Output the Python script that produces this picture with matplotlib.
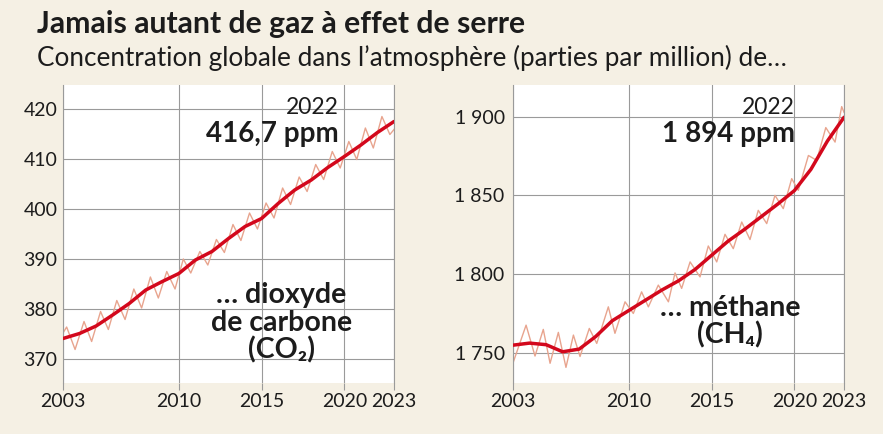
import matplotlib
matplotlib.use('Agg')
import matplotlib.pyplot as plt

plt.rcParams['font.family'] = ['Lato', 'DejaVu Sans']

# --- CO2 (ppm) ---
co2_years = [2003, 2004, 2005, 2006, 2007, 2008, 2009, 2010, 2011, 2012, 2013,
             2014, 2015, 2016, 2017, 2018, 2019, 2020, 2021, 2022, 2023]
co2_trend = [374.1, 375.1, 376.6, 378.8, 381.1, 383.8, 385.5, 387.1, 389.8, 391.5, 394.1,
             396.5, 398.1, 401.1, 403.8, 405.8, 408.3, 410.5, 412.8, 415.3, 417.5]

# seasonal cycle, peaks and troughs
co2_t = [2003.0, 2003.22, 2003.73, 2004.27, 2004.73, 2005.27, 2005.74, 2006.25, 2006.75,
         2007.28, 2007.75, 2008.28, 2008.76, 2009.27, 2009.77, 2010.27, 2010.72, 2011.27,
         2011.75, 2012.27, 2012.75, 2013.27, 2013.75, 2014.27, 2014.75, 2015.27, 2015.75,
         2016.27, 2016.75, 2017.27, 2017.75, 2018.27, 2018.75, 2019.27, 2019.75, 2020.27,
         2020.75, 2021.27, 2021.75, 2022.27, 2022.75, 2023.0]
co2_monthly = [375.2, 376.4, 371.9, 377.5, 373.5, 379.5, 375.9, 381.7, 377.9,
               384.0, 380.2, 386.4, 382.2, 387.5, 384.0, 390.0, 387.2, 391.5,
               388.8, 393.9, 391.3, 396.9, 393.7, 399.2, 396.0, 401.2, 398.2,
               404.2, 400.9, 406.4, 403.5, 408.9, 405.9, 411.5, 408.2, 413.5,
               409.9, 416.2, 412.2, 418.5, 414.9, 415.9]

# --- CH4 (ppb, labelled ppm in the source) ---
ch4_years = co2_years
ch4_trend = [1755.0, 1756.3, 1755.3, 1750.8, 1752.5, 1760.5, 1770.5, 1777.0, 1783.5, 1790.0, 1795.8,
             1803.0, 1812.0, 1821.0, 1828.5, 1836.5, 1844.5, 1853.0, 1866.5, 1884.5, 1899.5]

ch4_t = [2003.0, 2003.79, 2004.33, 2004.83, 2005.24, 2005.74, 2006.2, 2006.65, 2007.05,
         2007.61, 2008.06, 2008.76, 2009.16, 2009.77, 2010.27, 2010.77, 2011.18, 2011.78,
         2012.39, 2012.79, 2013.19, 2013.7, 2014.3, 2014.8, 2015.31, 2015.81, 2016.31,
         2016.82, 2017.32, 2017.82, 2018.33, 2018.83, 2019.33, 2019.84, 2020.24, 2020.85,
         2021.35, 2021.9, 2022.46, 2022.86, 2023.0]
ch4_monthly = [1743.7, 1767.7, 1748.1, 1765.0, 1743.5, 1763.1, 1740.9, 1761.4, 1747.8,
               1765.6, 1756.1, 1779.3, 1762.5, 1782.5, 1775.1, 1788.8, 1779.3, 1793.1,
               1782.5, 1800.8, 1791.0, 1807.8, 1798.3, 1817.9, 1807.8, 1825.3, 1816.2,
               1833.1, 1822.0, 1840.5, 1832.1, 1850.0, 1841.6, 1860.6, 1853.2, 1875.3,
               1872.2, 1893.0, 1883.8, 1906.3, 1902.7]

x_ticks = [2003, 2010, 2015, 2020, 2023]
co2_ticks = [370, 380, 390, 400, 410, 420]
ch4_ticks = [1750, 1800, 1850, 1900]
ch4_labels = ['1\u202f750', '1\u202f800', '1\u202f850', '1\u202f900']

BG = '#f5f0e4'
INK = '#1c1c1c'
GRID = '#9a9a9a'
RED = '#d3081c'
PINK = '#e8a48e'

fig = plt.figure(figsize=(8.83, 4.34), dpi=100, facecolor=BG)
W, H = 883, 434

ax1 = fig.add_axes([63 / W, 51 / H, 331 / W, 298 / H])
ax2 = fig.add_axes([513 / W, 51 / H, 331 / W, 298 / H])


def style(ax, ypad):
    ax.set_facecolor('white')
    ax.set_xlim(2003, 2023)
    ax.set_xticks(x_ticks)
    for s in ['top', 'bottom']:
        ax.spines[s].set_visible(False)
    for s in ['left', 'right']:
        ax.spines[s].set_color(GRID)
        ax.spines[s].set_linewidth(0.8)
    ax.grid(True, color=GRID, linewidth=0.8)
    ax.set_axisbelow(True)
    ax.tick_params(axis='x', length=5, width=0.8, color=GRID, pad=2,
                   labelsize=14, labelcolor=INK)
    ax.tick_params(axis='y', length=0, pad=ypad, labelsize=14, labelcolor=INK)


# Left: CO2
style(ax1, 4)
ax1.set_ylim(365.2, 424.8)
ax1.set_yticks(co2_ticks)
ax1.plot(co2_t, co2_monthly, color=PINK, linewidth=1.0, zorder=2)
ax1.plot(co2_years, co2_trend, color=RED, linewidth=2.5, zorder=3,
         solid_capstyle='round')
ax1.text(0.834, 0.902, '2022', transform=ax1.transAxes, ha='right',
         va='baseline', fontsize=16.5, color=INK)
ax1.text(0.834, 0.81, '416,7 ppm', transform=ax1.transAxes, ha='right',
         va='baseline', fontsize=20, fontweight='bold', color=INK)
ax1.text(0.659, 0.27, '\u2026 dioxyde', transform=ax1.transAxes, ha='center',
         va='baseline', fontsize=20.5, fontweight='bold', color=INK)
ax1.text(0.659, 0.1755, 'de carbone', transform=ax1.transAxes, ha='center',
         va='baseline', fontsize=20.5, fontweight='bold', color=INK)
ax1.text(0.659, 0.084, '(CO\u2082)', transform=ax1.transAxes, ha='center',
         va='baseline', fontsize=20.5, fontweight='bold', color=INK)

# Right: CH4
style(ax2, 6)
ax2.set_ylim(1731, 1920)
ax2.set_yticks(ch4_ticks, labels=ch4_labels)
ax2.plot(ch4_t, ch4_monthly, color=PINK, linewidth=1.0, zorder=2)
ax2.plot(ch4_years, ch4_trend, color=RED, linewidth=2.5, zorder=3,
         solid_capstyle='round')
ax2.text(0.852, 0.902, '2022', transform=ax2.transAxes, ha='right',
         va='baseline', fontsize=16.5, color=INK)
ax2.text(0.852, 0.81, '1\u202f894 ppm', transform=ax2.transAxes, ha='right',
         va='baseline', fontsize=20, fontweight='bold', color=INK)
ax2.text(0.656, 0.225, '\u2026 méthane', transform=ax2.transAxes, ha='center',
         va='baseline', fontsize=20.5, fontweight='bold', color=INK)
ax2.text(0.656, 0.133, '(CH\u2084)', transform=ax2.transAxes, ha='center',
         va='baseline', fontsize=20.5, fontweight='bold', color=INK)

# Titles
fig.text(37 / W, 1 - 33 / H, 'Jamais autant de gaz à effet de serre',
         fontsize=21.7, fontweight='bold', color=INK, va='baseline')
fig.text(37 / W, 1 - 66 / H,
         'Concentration globale dans l\u2019atmosphère (parties par million) de\u2026',
         fontsize=18.8, color=INK, va='baseline')

fig.savefig('out.png', dpi=100, facecolor=BG)
